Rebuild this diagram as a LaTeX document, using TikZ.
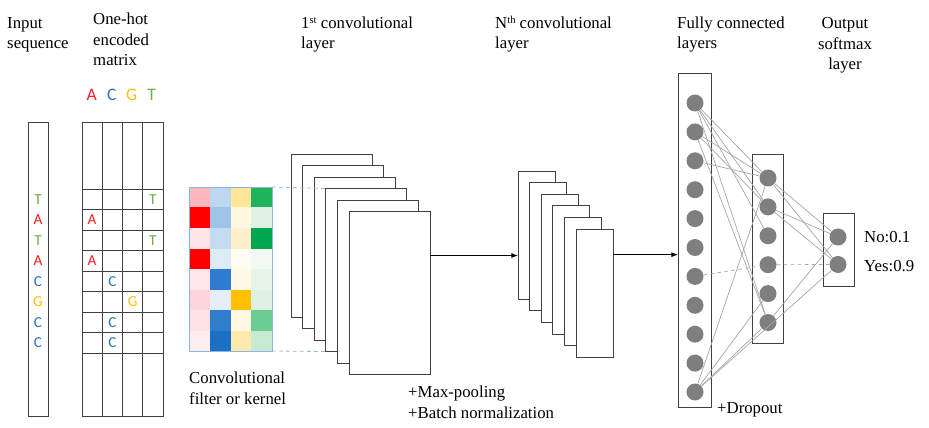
\documentclass[tikz,border=0pt]{standalone}
\usepackage{fontspec}
\setmainfont{Liberation Serif}
\newfontfamily\basefont{Carlito}
\usepackage{xcolor}
\usepackage{tikz}
\usetikzlibrary{arrows.meta, calc}
\definecolor{baseA}{HTML}{F01E23}
\definecolor{baseC}{HTML}{2E75B6}
\definecolor{baseG}{HTML}{FFC000}
\definecolor{baseT}{HTML}{70AD47}
\definecolor{kernelblue}{HTML}{8EB4E3}
\definecolor{boxgray}{HTML}{404040}
\definecolor{unitgray}{HTML}{7F7F7F}
\definecolor{linkgray}{HTML}{A6A6A6}
% kernel weights, one row per line
\definecolor{k1a}{HTML}{FFB7BE}\definecolor{k1b}{HTML}{BDD7EE}\definecolor{k1c}{HTML}{FFE699}\definecolor{k1d}{HTML}{21B35C}
\definecolor{k2a}{HTML}{FF0000}\definecolor{k2b}{HTML}{9DC3E6}\definecolor{k2c}{HTML}{FFF8E1}\definecolor{k2d}{HTML}{E2F1E6}
\definecolor{k3a}{HTML}{FFE4E8}\definecolor{k3b}{HTML}{C4DBF0}\definecolor{k3c}{HTML}{FFF0CC}\definecolor{k3d}{HTML}{00A650}
\definecolor{k4a}{HTML}{FF0000}\definecolor{k4b}{HTML}{DDEBF7}\definecolor{k4c}{HTML}{FFFCF2}\definecolor{k4d}{HTML}{F2F9F4}
\definecolor{k5a}{HTML}{FFE6EA}\definecolor{k5b}{HTML}{2E7BCF}\definecolor{k5c}{HTML}{FFF9E6}\definecolor{k5d}{HTML}{E6F4EA}
\definecolor{k6a}{HTML}{FFD5DB}\definecolor{k6b}{HTML}{E6EFF9}\definecolor{k6c}{HTML}{FFC000}\definecolor{k6d}{HTML}{DFF1E4}
\definecolor{k7a}{HTML}{FFE2E6}\definecolor{k7b}{HTML}{2F7DCB}\definecolor{k7c}{HTML}{FFF8E3}\definecolor{k7d}{HTML}{6DCB94}
\definecolor{k8a}{HTML}{FFEDF0}\definecolor{k8b}{HTML}{1B70C4}\definecolor{k8c}{HTML}{FFE9AA}\definecolor{k8d}{HTML}{C8EAD3}
\newcommand{\ordsup}[1]{\raisebox{0.6ex}{\fontsize{9}{9}\selectfont #1}}

\begin{document}
\begin{tikzpicture}[
  x=0.03cm, y=-0.03cm,
  font=\fontsize{14.3}{17.9}\selectfont,
  lbl/.style={anchor=base west, align=left, inner sep=0pt},
  nuc/.style={font=\basefont\fontsize{13}{13}\selectfont, inner sep=0pt},
  nuchead/.style={font=\basefont\fontsize{15}{15}\selectfont, inner sep=0pt},
  frame/.style={rectangle, draw=boxgray, line width=0.8pt, anchor=north west, inner sep=0pt, outer sep=0pt},
  grid/.style={draw=boxgray, line width=0.8pt},
  plane/.style={frame, fill=white, minimum width=2.43cm, minimum height=4.89cm},
  smallplane/.style={frame, fill=white, minimum width=1.11cm, minimum height=3.85cm},
  unit/.style={circle, fill=unitgray, inner sep=0pt, minimum size=0.51cm},
  link/.style={draw=linkgray, line width=0.6pt},
  kdash/.style={draw=kernelblue, dashed, line width=0.7pt},
  arr/.style={-{Latex[length=2mm, width=1.5mm]}, line width=0.7pt},
]
\useasboundingbox (0,0) rectangle (929,428);

\node[lbl] (lseq) at (7,49) {Input\\sequence};
\node[lbl] (lonehot) at (93,66) {One-hot\\encoded\\matrix};
\node[lbl] (lconv1) at (301,49) {1\ordsup{st} convolutional\\layer};
\node[lbl] (lconvn) at (495,49) {N\ordsup{th} convolutional\\layer};
\node[lbl] (lfc) at (677,49) {Fully connected\\layers};
\node[lbl, anchor=base, align=center] (lout) at (845,70) {Output\\softmax\\layer};

% sequence and one-hot matrix
\node[frame, minimum width=0.6cm, minimum height=8.82cm] (seq) at (28,122) {};
\node[frame, minimum width=2.43cm, minimum height=8.82cm] (onehot) at (82,122) {};
\foreach \c in {1,2,3}
  \draw[grid] ({82+20.25*\c},122) -- ({82+20.25*\c},416);
\foreach \r in {0,...,8}
  \draw[grid] (82,{189+20.5*\r}) -- (163,{189+20.5*\r});
\foreach \b/\x in {A/91.7, C/111.7, G/131.7, T/151.7}
  \node[nuchead, text=base\b] (h\b) at (\x,95) {\b};
\foreach \r/\b/\c in {0/T/3, 1/A/0, 2/T/3, 3/A/0, 4/C/1, 5/G/2, 6/C/1, 7/C/1} {
  \node[nuc, text=base\b] (s\r) at (38,{199.25+20.5*\r}) {\b};
  \node[nuc, text=base\b] (m\r) at ({92.1+20.25*\c},{199.25+20.5*\r}) {\b};
}

% kernel
\foreach \r in {1,...,8}
  \foreach \c/\l in {0/a,1/b,2/c,3/d}
    \fill[k\r\l] ({189+20.75*\c},{187+20.5*(\r-1)}) rectangle +(20.75,20.5);
\node[frame, draw=kernelblue, minimum width=2.49cm, minimum height=4.92cm] (kernel) at (189,187) {};
\node[lbl] (lkernel) at (189,404) {Convolutional\\filter or kernel};

% convolutional layers
\foreach \i in {1,...,6}
  \node[plane] (c\i) at ({291+11.6*(\i-1)},{154+11.5*(\i-1)}) {};
\draw[kdash] (kernel.north east) -- (c4.north west);
\draw[kdash] (kernel.south east) -- (c4.south west);
\foreach \i in {1,...,6}
  \node[smallplane] (n\i) at ({518+11.6*(\i-1)},{171+11.6*(\i-1)}) {};
\node[lbl] (lpool) at (408,418) {+Max-pooling\\+Batch normalization};

% fully connected part
\node[frame, minimum width=0.99cm, minimum height=10.02cm] (fc1) at (678,73) {};
\node[frame, minimum width=0.93cm, minimum height=5.67cm] (fc2) at (752,154) {};
\node[frame, minimum width=0.93cm, minimum height=2.19cm] (fcout) at (823,213) {};
\foreach \i in {1,...,11}
  \node[unit] (f\i) at (695,{103+28.9*(\i-1)}) {};
\foreach \i in {1,...,6}
  \node[unit] (g\i) at (768,{178+28.9*(\i-1)}) {};
\node[unit] (o1) at (838,237) {};
\node[unit] (o2) at (838,264.5) {};

\coordinate (a1) at ($(c6.north east)!0.27!(c6.south east)$);
\coordinate (a2) at ($(n6.north east)!0.2!(n6.south east)$);
\draw[arr] (a1) -- (a1 -| n1.west);
\draw[arr] (a2) -- (a2 -| fc1.west);

\foreach \a/\b in {1/1,1/2,1/3,1/6,2/1,2/2,2/6,3/1,11/1,11/5,11/6}
  \draw[link] (f\a) -- (g\b);
\foreach \a/\b in {1/1,1/2,2/1,2/2,6/1}
  \draw[link] (g\a) -- (o\b);
\draw[link] (f11) -- (o2);
\draw[link, dashed] (f7) -- (g4);
\draw[link, dashed] (g4) -- (o2);

\node[lbl] (lno) at (864,243) {No:0.1};
\node[lbl] (lyes) at (864,271) {Yes:0.9};
\node[lbl] (ldrop) at (717,413) {+Dropout};
\end{tikzpicture}
\end{document}
